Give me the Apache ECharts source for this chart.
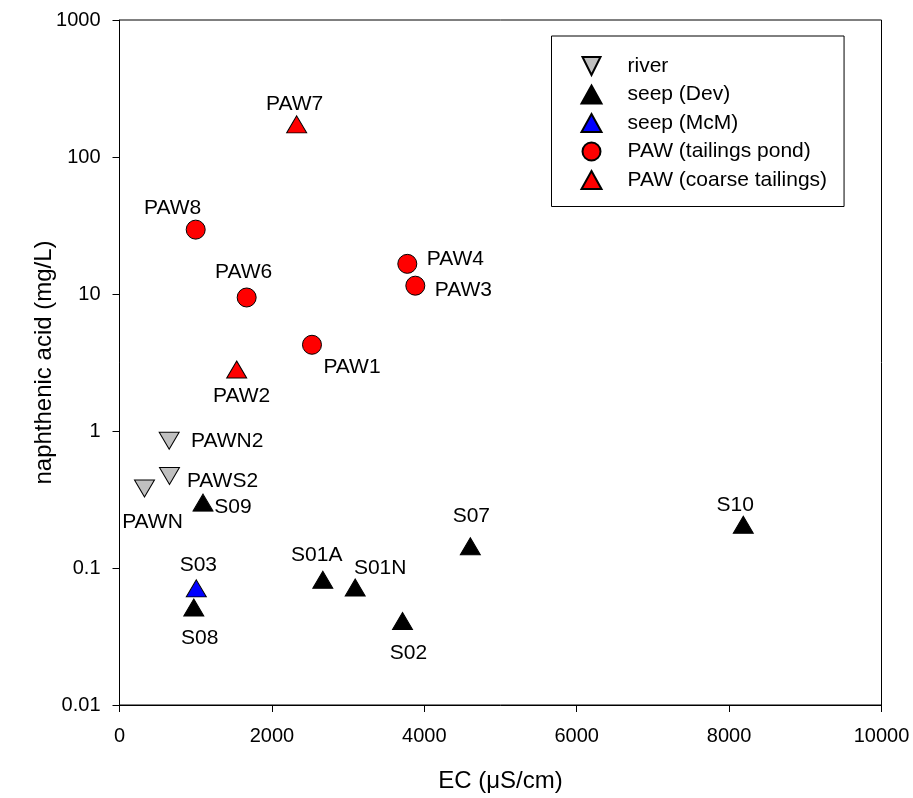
<!DOCTYPE html>
<html>
<head>
<meta charset="utf-8">
<script src="https://cdn.jsdelivr.net/npm/echarts@6/dist/echarts.min.js"></script>
<style>
html,body{margin:0;padding:0;background:#fff;}
#chart{width:913px;height:798px;}
</style>
</head>
<body>
<div id="chart"></div>
<script>
// ---- data ----
const riverNames = ['PAWN2', 'PAWS2', 'PAWN'];
const riverEC = [652, 656, 328];
const riverNA = [0.85, 0.47, 0.38];

const devNames = ['S09', 'S08', 'S01A', 'S01N', 'S02', 'S07', 'S10'];
const devEC = [1096, 975, 2668, 3093, 3714, 4604, 8186];
const devNA = [0.30, 0.0515, 0.082, 0.072, 0.041, 0.144, 0.207];

const mcmNames = ['S03'];
const mcmEC = [1008];
const mcmNA = [0.071];

const pondNames = ['PAW8', 'PAW6', 'PAW4', 'PAW3', 'PAW1'];
const pondEC = [1000, 1669, 3777, 3882, 2526];
const pondNA = [29.5, 9.43, 16.6, 11.5, 4.26];

const coarseNames = ['PAW7', 'PAW2'];
const coarseEC = [2325, 1538];
const coarseNA = [173, 2.81];

const seriesNames = ['river', 'seep (Dev)', 'seep (McM)', 'PAW (tailings pond)', 'PAW (coarse tailings)'];
const xTicks = [0, 2000, 4000, 6000, 8000, 10000];
const yTicks = [0.01, 0.1, 1, 10, 100, 1000];

// ---- label layout (offset of label centre from point, px) ----
const labelOffsets = {
  PAW7: [-2, -20], PAW8: [-23, -21], PAW6: [-3, -25], PAW1: [40, 22], PAW2: [5, 27],
  PAW4: [48, -5], PAW3: [48, 5], PAWN2: [58, 1], PAWS2: [53, 5], PAWN: [8, 34],
  S09: [30, 5], S03: [2, -23], S08: [6, 31], S01A: [-6, -25], S01N: [25, -19],
  S07: [1, -30], S02: [6, 32], S10: [-8, -20]
};

function build(names, xs, ys) {
  return names.map((n, i) => ({ name: n, value: [xs[i], ys[i]] }));
}

const FONT = '"Liberation Sans", Arial, sans-serif';
const downTri = 'path://M0,0L10,0L5,10Z';
const TRI = [20, 17];

const baseLabel = {
  show: true,
  position: 'inside',
  formatter: '{b}',
  color: '#000',
  fontSize: 21,
  fontFamily: FONT
};

function mkSeries(name, data, symbol, size, color) {
  return {
    name: name,
    type: 'scatter',
    data: data,
    symbol: symbol,
    symbolSize: size,
    itemStyle: { color: color, borderColor: '#000', borderWidth: 1, opacity: 1 },
    label: baseLabel,
    emphasis: { disabled: true },
    labelLayout: function (p) {
      const o = labelOffsets[p.text] || [0, 0];
      return { dx: o[0], dy: o[1], hideOverlap: false };
    }
  };
}

const chart = echarts.init(document.getElementById('chart'), null, { renderer: 'canvas' });
chart.setOption({
  animation: false,
  backgroundColor: '#fff',
  textStyle: { fontFamily: FONT },
  grid: {
    left: 119.5, right: 31.5, top: 20, bottom: 92,
    show: true, borderColor: '#000', borderWidth: 1, backgroundColor: 'transparent'
  },
  legend: {
    orient: 'vertical',
    left: 551.5,
    top: 36,
    padding: [19.5, 17, 16, 29],
    itemWidth: 20,
    itemHeight: 18,
    itemGap: 7.5,
    borderColor: '#000',
    borderWidth: 1,
    backgroundColor: '#fff',
    data: seriesNames,
    textStyle: { fontSize: 21, color: '#000', fontFamily: FONT, padding: [0, 0, 0, 21] }
  },
  xAxis: {
    type: 'value',
    min: 0, max: 10000, interval: 2000,
    name: 'EC (\u03BCS/cm)',
    nameLocation: 'middle',
    nameGap: 64,
    nameMoveOverlap: false,
    nameTextStyle: { fontSize: 24, color: '#000', fontFamily: FONT },
    axisLine: { show: true, lineStyle: { color: '#000', width: 1 } },
    axisTick: { show: true, inside: false, length: 7, lineStyle: { color: '#000' } },
    axisLabel: {
      fontSize: 20, color: '#000', margin: 21, fontFamily: FONT,
      formatter: v => (xTicks.indexOf(v) >= 0 ? String(v) : '')
    },
    splitLine: { show: false }
  },
  yAxis: {
    type: 'log',
    logBase: 10,
    min: 0.01, max: 1000,
    name: 'naphthenic acid (mg/L)',
    nameLocation: 'middle',
    nameGap: 63,
    nameMoveOverlap: false,
    nameRotate: 90,
    nameTextStyle: { fontSize: 24, color: '#000', fontFamily: FONT },
    axisLine: { show: true, lineStyle: { color: '#000', width: 1 } },
    axisTick: { show: true, inside: false, length: 7, lineStyle: { color: '#000' } },
    minorTick: { show: false },
    axisLabel: {
      fontSize: 20, color: '#000', margin: 19, fontFamily: FONT,
      formatter: v => {
        const m = yTicks.find(t => Math.abs(Math.log10(t) - Math.log10(v)) < 1e-6);
        return m !== undefined ? String(m) : '';
      }
    },
    splitLine: { show: false }
  },
  series: [
    mkSeries(seriesNames[0], build(riverNames, riverEC, riverNA), downTri, TRI, '#c0c0c0'),
    mkSeries(seriesNames[1], build(devNames, devEC, devNA), 'triangle', TRI, '#000000'),
    mkSeries(seriesNames[2], build(mcmNames, mcmEC, mcmNA), 'triangle', TRI, '#0000ff'),
    mkSeries(seriesNames[3], build(pondNames, pondEC, pondNA), 'circle', 19, '#ff0000'),
    mkSeries(seriesNames[4], build(coarseNames, coarseEC, coarseNA), 'triangle', TRI, '#ff0000')
  ]
});
</script>
</body>
</html>
